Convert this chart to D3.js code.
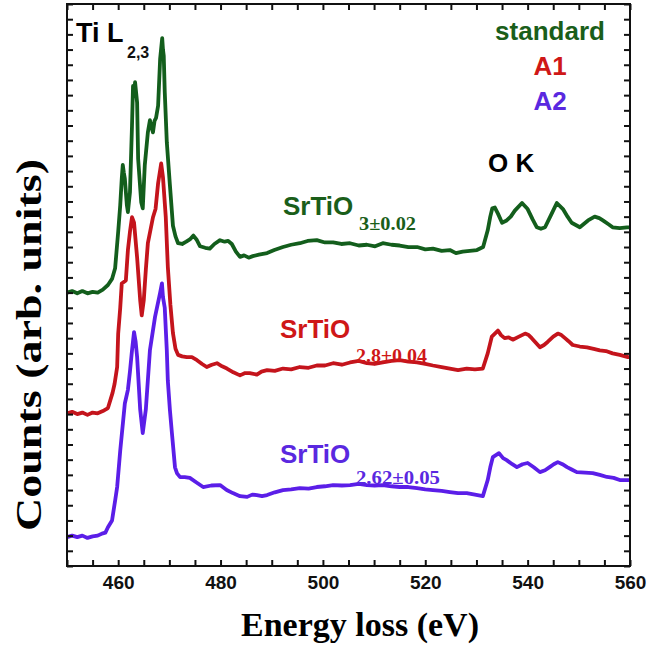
<!DOCTYPE html>
<html>
<head>
<meta charset="utf-8">
<script src="https://cdn.jsdelivr.net/npm/d3@7"></script>
<style>
  html, body { margin: 0; padding: 0; background: #fff; }
  svg { display: block; }
</style>
</head>
<body>
<svg id="chart" width="671" height="653"></svg>
<script>
// ---------------- DATA ----------------
const xTickValues = [450,455,460,465,470,475,480,485,490,495,500,505,510,515,520,525,530,535,540,545,550,555,560];
const xTickLabels = [460, 480, 500, 520, 540, 560];
const yTickValues = d3.range(0, 38, 1);

// standard (green)
const stdE = [450.0,451.0,452.0,453.0,454.0,455.0,456.0,457.0,458.0,458.8,459.4,460.0,460.4,460.7,460.9,461.1,461.3,461.7,461.9,462.3,462.7,462.9,463.1,463.3,463.7,463.9,464.5,464.8,465.2,465.8,466.2,466.5,466.8,467.1,467.4,467.8,468.2,468.6,468.75,468.9,469.1,469.5,470.1,470.7,471.2,471.7,472.5,473.3,474.0,474.7,475.3,476.0,477.0,477.9,478.8,479.9,480.8,481.5,482.2,483.0,483.8,484.6,485.5,486.3,487.5,489.1,490.5,492.2,493.8,495.5,497.0,498.8,500.4,502.0,503.6,505.3,507.0,508.6,510.2,511.7,513.4,515.0,516.7,518.4,520.0,521.5,523.2,524.8,526.0,527.3,528.7,530.1,531.3,532.2,532.7,533.1,533.6,534.2,535.0,535.9,536.7,537.5,538.9,540.0,541.0,541.8,542.6,543.4,544.7,545.7,546.9,547.8,548.6,550.2,551.8,553.1,554.0,554.7,555.8,556.6,558.0,559.4,560.0];
const stdI = [18.0,18.1,17.95,18.1,17.95,18.05,18.0,18.2,18.5,18.9,19.6,22.0,23.75,25.5,26.4,25.9,25.5,23.75,23.3,24.6,29.0,31.6,31.0,31.85,30.5,26.8,23.95,23.55,26.4,28.55,29.35,28.9,28.55,29.3,29.5,30.3,33.4,34.75,34.0,33.6,31.2,27.9,25.1,22.4,21.7,21.25,21.2,21.35,21.5,21.75,21.5,21.05,20.95,20.9,21.2,21.45,21.35,21.4,21.2,20.7,20.35,20.45,20.3,20.4,20.5,20.6,20.8,21.0,21.15,21.25,21.4,21.45,21.3,21.3,21.2,21.25,21.1,21.15,21.05,21.25,21.15,21.1,21.0,21.0,20.85,20.9,20.75,20.8,20.6,20.7,20.75,20.8,21.0,22.1,23.0,23.55,23.6,23.2,22.6,22.75,23.0,23.4,23.9,23.5,22.8,22.3,22.2,22.3,23.2,23.9,23.5,23.0,22.6,22.3,22.75,23.0,22.9,22.75,22.5,22.3,22.25,22.3,22.3];

// A1 (red)
const a1E = [450.0,451.0,452.0,453.0,454.0,455.0,456.0,457.0,458.0,458.9,459.3,459.8,460.0,460.4,460.7,461.5,461.9,462.3,462.7,463.1,463.7,464.3,464.6,465.0,465.4,465.8,466.8,467.3,467.8,468.4,468.75,469.3,469.7,470.2,470.7,471.2,471.7,472.5,473.4,474.4,475.4,476.4,477.3,478.3,479.3,480.3,481.25,482.5,483.8,484.8,485.7,487.1,488.0,489.1,490.6,492.2,493.8,495.5,497.2,498.8,500.4,502.0,503.7,505.3,507.0,508.6,510.1,511.7,513.4,515.0,516.7,518.4,520.0,521.5,523.2,524.8,526.4,528.1,529.7,531.25,532.2,533.0,533.6,534.2,534.8,535.5,536.3,537.1,538.3,539.5,540.2,540.8,541.6,542.4,543.2,543.9,545.0,545.9,546.6,547.3,548.0,548.8,550.2,551.6,552.9,554.1,555.3,556.6,558.0,559.6,560.0];
const a1I = [10.05,10.15,10.0,10.1,9.95,10.1,10.05,10.2,10.4,11.4,12.0,13.1,15.3,17.0,18.6,18.8,20.8,22.0,22.96,22.6,20.3,17.5,16.5,17.5,19.5,21.25,22.96,23.5,25.2,26.5,25.6,22.96,19.7,17.2,15.33,14.3,13.9,13.8,13.75,13.75,13.55,13.3,13.1,13.25,13.35,13.15,13.0,12.75,12.55,12.7,12.7,12.6,12.8,12.9,12.85,13.0,12.95,13.1,13.05,13.2,13.2,13.35,13.25,13.4,13.5,13.35,13.3,13.4,13.5,13.55,13.45,13.4,13.3,13.2,13.1,13.0,12.9,13.0,12.95,13.0,14.0,15.1,15.3,15.5,15.2,15.0,15.05,14.9,15.1,15.3,15.2,15.0,14.7,14.4,14.55,14.75,15.1,15.3,15.2,15.0,14.8,14.55,14.45,14.4,14.3,14.2,14.15,14.0,13.9,13.75,13.75];

// A2 (blue)
const a2E = [450.0,451.0,452.0,453.0,454.0,455.0,456.0,457.0,457.5,458.0,458.8,459.4,459.8,460.4,461.3,461.9,462.3,462.7,463.1,463.4,463.7,464.3,464.8,465.4,466.2,467.2,468.2,468.55,468.75,469.1,469.5,469.7,470.1,470.5,471.1,471.5,472.1,473.0,474.0,475.3,476.6,478.2,479.9,481.2,482.4,483.8,485.2,486.2,487.1,488.1,489.1,490.6,492.2,493.8,495.5,497.2,498.8,500.4,502.0,503.7,505.3,507.0,508.6,510.1,511.7,513.4,515.0,516.7,518.4,520.0,521.5,523.2,524.8,526.4,528.1,529.7,531.25,532.2,532.7,533.2,534.4,535.2,535.9,537.0,537.9,539.0,540.0,541.2,542.4,543.4,544.3,545.1,545.9,546.8,547.7,548.6,549.6,551.2,552.7,554.1,555.5,556.8,558.0,559.6,560.0];
const a2I = [1.9,2.0,1.9,2.0,1.85,1.95,2.0,2.15,2.2,2.55,3.0,4.3,5.2,7.6,10.7,11.6,12.8,14.2,15.4,14.8,13.75,10.3,8.75,10.3,14.2,16.4,18.0,18.6,17.7,17.0,14.2,12.2,10.3,8.75,6.5,6.1,5.85,5.85,5.8,5.5,5.2,5.3,5.33,5.0,4.8,4.6,4.55,4.7,4.67,4.6,4.67,4.85,5.0,5.05,5.13,5.1,5.2,5.25,5.33,5.3,5.33,5.4,5.33,5.3,5.33,5.25,5.2,5.2,5.13,5.05,5.0,4.95,4.87,4.8,4.8,4.7,4.6,5.66,6.5,7.17,7.43,7.1,6.97,6.7,6.51,6.7,6.78,6.5,6.18,6.3,6.51,6.7,6.84,6.7,6.51,6.35,6.18,6.15,6.12,6.0,5.86,5.8,5.66,5.66,5.66];

const seriesNames = ["standard", "A1", "A2"];
const seriesColors = ["#135e1c", "#c4141c", "#5b1ee8"];
const labelColors = ["#1a5e1a", "#cf1717", "#5a28e0"];
const formulaSubs = ["3±0.02", "2.8±0.04", "2.62±0.05"];

// ---------------- CHART ----------------
const svg = d3.select("#chart");
const plot = { left: 67, right: 630, top: 4, bottom: 566 };

const x = d3.scaleLinear().domain([450, 560]).range([plot.left, plot.right]);
const y = d3.scaleLinear().domain([0, 37]).range([plot.bottom, plot.top]);

const series = [
  { E: stdE, I: stdI },
  { E: a1E, I: a1I },
  { E: a2E, I: a2I }
];

const line = d3.line().x(d => x(d[0])).y(d => y(d[1])).curve(d3.curveLinear);

const gLines = svg.append("g");
series.forEach((s, i) => {
  const pts = s.E.map((e, k) => [e, s.I[k]]);
  gLines.append("path")
    .datum(pts)
    .attr("fill", "none")
    .attr("stroke", seriesColors[i])
    .attr("stroke-width", 3.8)
    .attr("stroke-linejoin", "round")
    .attr("d", line);
});

// axes with inward ticks
const fmt = d => xTickLabels.includes(d) ? String(d) : "";
const axB = svg.append("g").attr("transform", `translate(0,${plot.bottom})`)
  .call(d3.axisBottom(x).tickValues(xTickValues).tickSizeInner(-6).tickSizeOuter(0).tickPadding(10).tickFormat(fmt));
const axT = svg.append("g").attr("transform", `translate(0,${plot.top})`)
  .call(d3.axisTop(x).tickValues(xTickValues).tickSizeInner(-6).tickSizeOuter(0).tickFormat(""));
const axL = svg.append("g").attr("transform", `translate(${plot.left},0)`)
  .call(d3.axisLeft(y).tickValues(yTickValues).tickSizeInner(-6).tickSizeOuter(0).tickFormat(""));
const axR = svg.append("g").attr("transform", `translate(${plot.right},0)`)
  .call(d3.axisRight(y).tickValues(yTickValues).tickSizeInner(-6).tickSizeOuter(0).tickFormat(""));

[axB, axT, axL, axR].forEach(g => {
  g.select(".domain").remove();
  g.selectAll(".tick line").attr("stroke", "#111").attr("stroke-width", 2);
});
axB.selectAll(".tick text")
  .attr("font-family", "'Liberation Sans', Arial, sans-serif")
  .attr("font-weight", "bold")
  .attr("font-size", 19)
  .attr("fill", "#111");

svg.append("rect")
  .attr("x", plot.left).attr("y", plot.top)
  .attr("width", plot.right - plot.left).attr("height", plot.bottom - plot.top)
  .attr("fill", "none").attr("stroke", "#111").attr("stroke-width", 2);

// axis titles
const sans = "'Liberation Sans', Arial, sans-serif";
const serif = "'Liberation Serif', 'Times New Roman', serif";

svg.append("text")
  .attr("x", 360).attr("y", 636)
  .attr("text-anchor", "middle")
  .attr("font-family", serif)
  .attr("font-weight", "bold").attr("font-size", 34)
  .attr("fill", "#000")
  .text("Energy loss (eV)");

svg.append("text")
  .attr("transform", "translate(41,345) rotate(-90)")
  .attr("text-anchor", "middle")
  .attr("font-family", serif)
  .attr("font-weight", "bold").attr("font-size", 35)
  .attr("textLength", 372).attr("lengthAdjust", "spacingAndGlyphs")
  .attr("fill", "#000")
  .text("Counts (arb. units)");

// annotations
svg.append("text").attr("x", 76).attr("y", 42)
  .attr("font-family", sans).attr("font-weight", "bold").attr("font-size", 27).attr("fill", "#000")
  .text("Ti L");
svg.append("text").attr("x", 127).attr("y", 58)
  .attr("font-family", sans).attr("font-weight", "bold").attr("font-size", 16).attr("fill", "#111")
  .text("2,3");

svg.append("text").attr("x", 488).attr("y", 172)
  .attr("font-family", sans).attr("font-weight", "bold").attr("font-size", 26).attr("fill", "#000")
  .text("O K");

const legendY = [40, 75, 110];
seriesNames.forEach((n, i) => {
  svg.append("text").attr("x", 550).attr("y", legendY[i])
    .attr("text-anchor", "middle")
    .attr("font-family", sans).attr("font-weight", "bold").attr("font-size", 26)
    .attr("fill", labelColors[i])
    .text(n);
});

const formulaPos = [
  { x: 283, y: 215, sx: 359, sy: 230, len: 57 },
  { x: 280, y: 338, sx: 356, sy: 362, len: 71 },
  { x: 280, y: 463, sx: 356, sy: 484, len: 84 }
];
formulaPos.forEach((p, i) => {
  svg.append("text").attr("x", p.x).attr("y", p.y)
    .attr("font-family", sans).attr("font-weight", "bold").attr("font-size", 26)
    .attr("fill", labelColors[i])
    .text("SrTiO");
  svg.append("text").attr("x", p.sx).attr("y", p.sy)
    .attr("font-family", serif).attr("font-weight", "bold").attr("font-size", 19)
    .attr("textLength", p.len).attr("lengthAdjust", "spacingAndGlyphs")
    .attr("fill", labelColors[i])
    .text(formulaSubs[i]);
});
</script>
</body>
</html>
